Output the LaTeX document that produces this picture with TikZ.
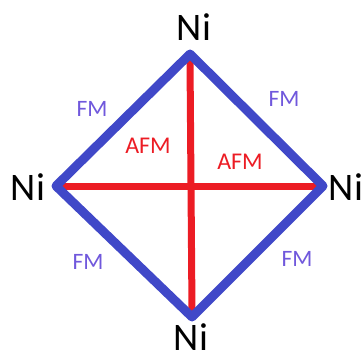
\documentclass[tikz,border=0pt]{standalone}
\usepackage{fontspec}
\setmainfont{Carlito}
\usetikzlibrary{calc}
\definecolor{fmblue}{RGB}{64,72,200}
\definecolor{afmred}{RGB}{236,28,36}
\definecolor{fmtext}{RGB}{112,88,220}
\tikzset{
  atom/.style={font=\fontsize{39}{39}\selectfont, text=black, inner sep=0pt},
  fmlabel/.style={font=\fontsize{23.5}{23.5}\selectfont, text=fmtext, inner sep=0pt},
  afmlabel/.style={font=\fontsize{24}{24}\selectfont, text=afmred, inner sep=0pt},
  fmbond/.style={draw=fmblue, line width=9pt, line join=round, line cap=round},
  afmbond/.style={draw=afmred, line width=7pt}
}
\begin{document}
\begin{tikzpicture}[x=1pt, y=-1pt]
  \useasboundingbox (0,0) rectangle (364,356);
  % corners of the square
  \coordinate (T) at (190,54);
  \coordinate (L) at (56,186);
  \coordinate (R) at (323,186);
  \coordinate (B) at (192,317);
  % AFM bonds
  \draw[afmbond] ($(L)+(6,0)$) -- ($(R)+(-6,0)$);
  \draw[afmbond] ($(T)+(0,6)$) -- ($(B)+(0,-6)$);
  % FM bonds
  \draw[fmbond] (T) -- (R) -- (B) -- (L) -- cycle;
  % atoms
  \node[atom] (nt) at (194,27) {Ni};
  \node[atom] (nl) at (28,187) {Ni};
  \node[atom] (nr) at (346,187) {Ni};
  \node[atom] (nb) at (191,337) {Ni};
  % labels
  \node[fmlabel] (fm1) at (92,109) {FM};
  \node[fmlabel] (fm2) at (284,99) {FM};
  \node[fmlabel] (fm3) at (88,262) {FM};
  \node[fmlabel] (fm4) at (297,259) {FM};
  \node[afmlabel] (afm1) at (148,146) {AFM};
  \node[afmlabel] (afm2) at (240,162) {AFM};
\end{tikzpicture}
\end{document}
